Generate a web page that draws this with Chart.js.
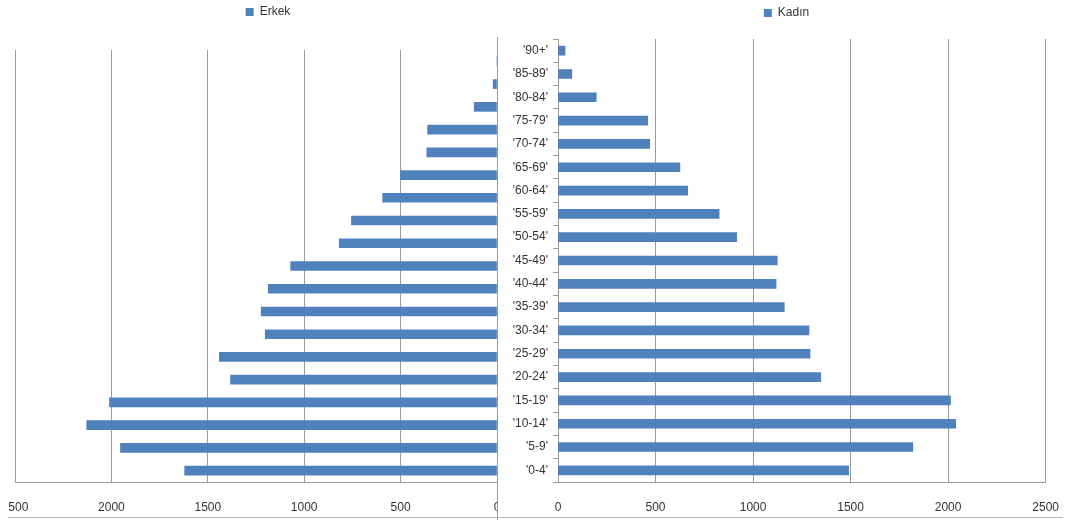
<!DOCTYPE html>
<html>
<head>
<meta charset="utf-8">
<title>Nüfus piramidi</title>
<script src="https://cdn.jsdelivr.net/npm/chart.js@4.4.0/dist/chart.umd.min.js"></script>
<style>
  html, body { margin: 0; padding: 0; background: #fff; }
  body { width: 1065px; height: 520px; position: relative; overflow: hidden; }
  #leftWrap { position: absolute; left: 8px; top: 0; width: 490px; height: 520px; overflow: hidden; }
  #leftWrap canvas { position: absolute; left: -20px; top: 0; }
  #rightWrap { position: absolute; left: 498px; top: 0; width: 567px; height: 520px; background: #fff; }
  #divider { position: absolute; left: 497px; top: 37px; width: 1px; height: 483px; background: #9a9a9a; }
  #bottomLine { position: absolute; left: 8px; top: 517px; width: 1055px; height: 1px; background: #b4b4b4; }
</style>
</head>
<body>
<div id="leftWrap"><canvas id="erkekChart" width="533" height="520"></canvas></div>
<div id="rightWrap"><canvas id="kadinChart" width="567" height="520"></canvas></div>
<div id="divider"></div>
<div id="bottomLine"></div>

<script>
// Yaş grupları (boven naar beneden, zoals in de grafiek)
const ageGroups = ["'90+'", "'85-89'", "'80-84'", "'75-79'", "'70-74'", "'65-69'", "'60-64'",
    "'55-59'", "'50-54'", "'45-49'", "'40-44'", "'35-39'", "'30-34'", "'25-29'",
    "'20-24'", "'15-19'", "'10-14'", "'5-9'", "'0-4'"];

// Erkek (links) en Kadın (rechts)
const erkek = [0, 20, 118, 360, 364, 501, 593, 755, 818, 1070, 1186, 1223, 1202, 1440, 1382, 2010, 2128, 1953, 1620];
const kadin = [36, 71, 196, 460, 470, 625, 665, 826, 916, 1124, 1118, 1160, 1287, 1292, 1347, 2012, 2039, 1819, 1490];

// Waarden op de x-as
const xTicks = [0, 500, 1000, 1500, 2000, 2500];

const barBlue = '#4f81bd';
const gridColor = '#9a9a9a';
const textColor = '#333333';

Chart.defaults.font.family = "'Liberation Sans', Arial, sans-serif";
Chart.defaults.font.size = 12;

// Extra ruimte tussen legenda en grafiek
const legendGap = {
    id: 'legendGap',
    beforeLayout(chart, args, opts) {
        const lg = chart.legend;
        if (lg && !lg._gapPatched) {
            const fit = lg.fit;
            lg.fit = function () {
                fit.call(this);
                this.height += opts.extra || 0;
            };
            lg._gapPatched = true;
        }
    }
};

function xScale(reverse) {
    return {
        reverse: reverse,
        min: xTicks[0],
        max: xTicks[xTicks.length - 1],
        afterBuildTicks: s => { s.ticks = xTicks.map(v => ({ value: v })); },
        afterFit: s => { s.height = 38; },
        grid: { color: gridColor, tickLength: 12, tickColor: 'transparent' },
        border: { color: gridColor },
        ticks: { padding: 6, color: textColor, callback: v => String(v) }
    };
}

function legendOpts(pad) {
    return {
        labels: { boxWidth: 8, boxHeight: 8, padding: pad, color: textColor, font: { size: 12 } }
    };
}

// Linker grafiek: Erkek
new Chart(document.getElementById('erkekChart'), {
    type: 'bar',
    data: {
        labels: ageGroups,
        datasets: [{ label: 'Erkek', data: erkek, backgroundColor: barBlue, borderWidth: 0, barThickness: 9 }]
    },
    options: {
        indexAxis: 'y',
        responsive: false,
        animation: false,
        layout: { padding: { left: 27, right: 0, top: 0, bottom: 0 } },
        plugins: {
            legend: legendOpts(6),
            legendGap: { extra: 22 },
            tooltip: { enabled: false }
        },
        scales: {
            x: xScale(true),
            y: {
                position: 'right',
                afterFit: s => { s.width = 24; },
                grid: { display: false },
                border: { display: false },
                ticks: { display: false }
            }
        }
    },
    plugins: [legendGap]
});

// Rechter grafiek: Kadın
new Chart(document.getElementById('kadinChart'), {
    type: 'bar',
    data: {
        labels: ageGroups,
        datasets: [{ label: 'Kadın', data: kadin, backgroundColor: barBlue, borderWidth: 0, barThickness: 9 }]
    },
    options: {
        indexAxis: 'y',
        responsive: false,
        animation: false,
        layout: { padding: { left: 10, right: 0, top: 0, bottom: 0 } },
        plugins: {
            legend: legendOpts(7),
            legendGap: { extra: 10 },
            tooltip: { enabled: false }
        },
        scales: {
            x: xScale(false),
            y: {
                position: 'left',
                afterFit: s => { s.width = 50; },
                grid: { drawOnChartArea: false, offset: true, tickLength: 5, color: gridColor },
                border: { color: gridColor },
                ticks: { padding: 5, color: textColor, autoSkip: false }
            }
        }
    },
    plugins: [legendGap]
});
</script>
</body>
</html>
